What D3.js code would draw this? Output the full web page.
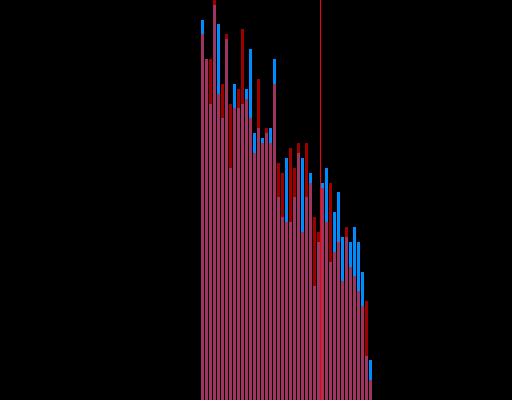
<!DOCTYPE html>
<html>
<head>
<meta charset="utf-8">
<script src="https://cdn.jsdelivr.net/npm/d3@7"></script>
<style>
  html, body { margin: 0; padding: 0; background: #000; }
  svg { display: block; }
</style>
</head>
<body>
<script>
// Two overlaid histograms sharing the same bins, plus a threshold line.
const bins = d3.range(43);
const blueCounts = [77, 69, 60, 80, 76, 57, 73, 47, 64, 59, 60, 63, 71, 54, 55, 53, 54, 55, 69, 41,
                    37, 49, 36, 41, 50, 49, 41, 46, 23, 32, 44, 47, 28, 38, 42, 33, 33, 32, 35, 32,
                    26, 9, 8];
const redCounts  = [74, 69, 69, 83, 62, 64, 74, 60, 59, 63, 75, 61, 57, 50, 65, 52, 55, 52, 64, 48,
                    46, 36, 51, 47, 52, 34, 52, 44, 37, 34, 43, 36, 44, 30, 32, 24, 35, 27, 25, 22,
                    19, 20, 4];
const thresholds = [30];

const width = 512, height = 400;

const svg = d3.select("body").append("svg")
  .attr("width", width)
  .attr("height", height)
  .style("background", "#000");

const x = d3.scaleLinear().domain([0, 43]).range([200, 372]);
const y = d3.scaleLinear().domain([0, 80.95]).range([400, 0]);

function drawSeries(counts, color, opacity) {
  svg.append("g")
    .attr("shape-rendering", "crispEdges")
    .selectAll("rect")
    .data(bins)
    .join("rect")
      .attr("x", i => x(i) + 1)
      .attr("width", i => x(i + 1) - x(i) - 1)
      .attr("y", i => Math.round(y(counts[i])))
      .attr("height", i => height - Math.round(y(counts[i])))
      .attr("fill", color)
      .attr("fill-opacity", opacity);
}

drawSeries(blueCounts, "#008cff", 1);
drawSeries(redCounts, "#ff0000", 0.62);

svg.append("g")
  .selectAll("line")
  .data(thresholds)
  .join("line")
    .attr("x1", d => x(d) + 0.5)
    .attr("x2", d => x(d) + 0.5)
    .attr("y1", 0)
    .attr("y2", height)
    .attr("stroke", "#ff0000")
    .attr("stroke-width", 1);
</script>
</body>
</html>
